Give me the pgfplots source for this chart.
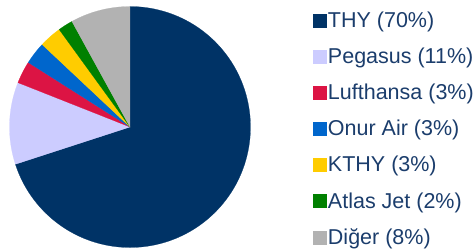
\documentclass[border=0pt]{standalone}
\usepackage{pgfplots}
\pgfplotsset{compat=1.18}
\usepackage{fontspec}
\setmainfont{Liberation Sans}
\definecolor{cTHY}{HTML}{003366}
\definecolor{cPeg}{HTML}{CCCCFF}
\definecolor{cLuf}{HTML}{DC1444}
\definecolor{cOnur}{HTML}{0066CC}
\definecolor{cKTHY}{HTML}{FFCC00}
\definecolor{cAtlas}{HTML}{008000}
\definecolor{cDiger}{HTML}{B2B2B2}
\definecolor{legtext}{HTML}{1B3D6C}
\begin{document}
\begin{tikzpicture}
\begin{axis}[
 name=pie,
 scale only axis, width=473pt, height=249pt,
 xmin=-1.0788, xmax=2.8465, ymin=-1.0124, ymax=1.054,
 hide axis, clip=false,
 legend style={at={(axis cs:1.515,0.972)}, anchor=north west, draw=none, fill=none,
   font=\fontsize{21.5}{25.8}\selectfont, text=legtext, row sep=15pt, inner sep=0pt,
   /tikz/every even column/.style={column sep=0pt}},
 legend cell align=left,
 legend image code/.code={\fill[#1] (0pt,-6.5pt) rectangle (13pt,6.5pt);},
]
\addplot[draw=cTHY, line width=0.2pt, fill=cTHY, domain=-162:90, samples=120, variable=\t] ({cos(\t)},{sin(\t)}) -- (axis cs:0,0) -- cycle;
\addlegendentry{THY (70\%)}
\addplot[draw=cPeg, line width=0.2pt, fill=cPeg, domain=-201.6:-162, samples=30, variable=\t] ({cos(\t)},{sin(\t)}) -- (axis cs:0,0) -- cycle;
\addlegendentry{Pegasus (11\%)}
\addplot[draw=cLuf, line width=0.2pt, fill=cLuf, domain=-212.4:-201.6, samples=10, variable=\t] ({cos(\t)},{sin(\t)}) -- (axis cs:0,0) -- cycle;
\addlegendentry{Lufthansa (3\%)}
\addplot[draw=cOnur, line width=0.2pt, fill=cOnur, domain=-223.2:-212.4, samples=10, variable=\t] ({cos(\t)},{sin(\t)}) -- (axis cs:0,0) -- cycle;
\addlegendentry{Onur Air (3\%)}
\addplot[draw=cKTHY, line width=0.2pt, fill=cKTHY, domain=-234:-223.2, samples=10, variable=\t] ({cos(\t)},{sin(\t)}) -- (axis cs:0,0) -- cycle;
\addlegendentry{KTHY (3\%)}
\addplot[draw=cAtlas, line width=0.2pt, fill=cAtlas, domain=-241.2:-234, samples=8, variable=\t] ({cos(\t)},{sin(\t)}) -- (axis cs:0,0) -- cycle;
\addlegendentry{Atlas Jet (2\%)}
\addplot[draw=cDiger, line width=0.2pt, fill=cDiger, domain=-270:-241.2, samples=25, variable=\t] ({cos(\t)},{sin(\t)}) -- (axis cs:0,0) -- cycle;
\addlegendentry{Diğer (8\%)}
\end{axis}
\pgfresetboundingbox
\path[use as bounding box] (pie.south west) rectangle (pie.north east);
\end{tikzpicture}
\end{document}
